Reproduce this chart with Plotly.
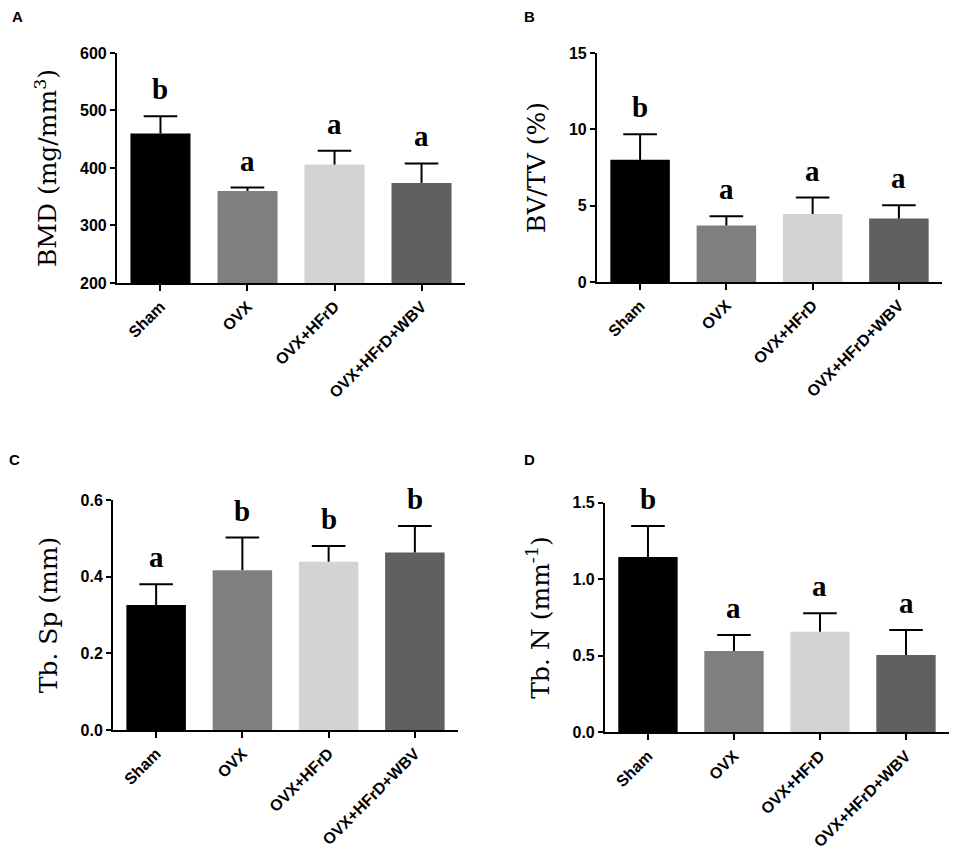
import plotly.graph_objects as go

groups = ["Sham", "OVX", "OVX+HFrD", "OVX+HFrD+WBV"]
bar_colors = ["#000000", "#7f7f7f", "#d3d3d3", "#606060"]

# panel A: BMD
bmd_mean = [460, 360, 406, 374]
bmd_err = [30, 6, 24, 34]
bmd_sig = ["b", "a", "a", "a"]

# panel B: BV/TV
bvtv_mean = [8.0, 3.7, 4.45, 4.15]
bvtv_err = [1.67, 0.6, 1.08, 0.88]
bvtv_sig = ["b", "a", "a", "a"]

# panel C: Tb. Sp
tbsp_mean = [0.326, 0.417, 0.439, 0.463]
tbsp_err = [0.054, 0.085, 0.041, 0.069]
tbsp_sig = ["a", "b", "b", "b"]

# panel D: Tb. N
tbn_mean = [1.145, 0.531, 0.657, 0.505]
tbn_err = [0.202, 0.104, 0.12, 0.163]
tbn_sig = ["b", "a", "a", "a"]

panels = [
    dict(tag="A", mean=bmd_mean, err=bmd_err, sig=bmd_sig,
         title="BMD (mg/mm<sup>3</sup>)", rng=[200, 600], dtick=100, fmt="d",
         xdom=[0.1158, 0.4857], ydom=[0.6742, 0.9467], lab=(0.0106, 0.9905)),
    dict(tag="B", mean=bvtv_mean, err=bvtv_err, sig=bvtv_sig,
         title="BV/TV (%)", rng=[0, 15], dtick=5, fmt="d",
         xdom=[0.6259, 0.9926], ydom=[0.6754, 0.9467], lab=(0.5537, 0.9905)),
    dict(tag="C", mean=tbsp_mean, err=tbsp_err, sig=tbsp_sig,
         title="Tb. Sp (mm)", rng=[0, 0.6], dtick=0.2, fmt=".1f",
         xdom=[0.1116, 0.4782], ydom=[0.1445, 0.4171], lab=(0.0074, 0.4656)),
    dict(tag="D", mean=tbn_mean, err=tbn_err, sig=tbn_sig,
         title="Tb. N (mm<sup>-1</sup>)", rng=[0, 1.5], dtick=0.5, fmt=".1f",
         xdom=[0.6344, 1.0], ydom=[0.1418, 0.4139], lab=(0.5537, 0.4656)),
]

fig = go.Figure()
tick_font = dict(family="Liberation Sans", size=16, color="black", weight="bold")

for i, p in enumerate(panels):
    n = "" if i == 0 else str(i + 1)
    tops = [m + e for m, e in zip(p["mean"], p["err"])]
    fig.add_trace(go.Bar(
        x=groups, y=p["mean"],
        marker=dict(color=bar_colors, line=dict(width=0)),
        xaxis="x" + n, yaxis="y" + n, showlegend=False,
    ))
    # upper error bars: stem drawn down to the bar top, cap only at the top
    fig.add_trace(go.Scatter(
        x=groups, y=tops, mode="markers",
        marker=dict(symbol="line-ew", size=24, color="black",
                    line=dict(color="black", width=2)),
        error_y=dict(type="data", symmetric=False, array=[0] * len(groups),
                     arrayminus=p["err"], color="black", thickness=2, width=0),
        xaxis="x" + n, yaxis="y" + n, showlegend=False, hoverinfo="skip",
    ))
    fig.update_layout(**{
        "xaxis" + n: dict(
            domain=p["xdom"], anchor="y" + n, showline=True, linewidth=2,
            linecolor="black", ticks="outside", ticklen=6, tickwidth=2,
            tickcolor="black", tickangle=-45, automargin=False,
            tickfont=dict(family="Liberation Sans", size=16, color="black",
                          weight="bold"),
            showgrid=False, zeroline=False),
        "yaxis" + n: dict(
            domain=p["ydom"], anchor="x" + n, range=p["rng"], dtick=p["dtick"],
            tickformat=p["fmt"], showline=True, linewidth=2, linecolor="black",
            ticks="outside", ticklen=5, tickwidth=2, tickcolor="black",
            tickfont=tick_font, showgrid=False, zeroline=False,
            automargin=False,
            title=dict(text=p["title"], standoff=16,
                       font=dict(family="DejaVu Serif", size=25,
                                 color="black"))),
    })
    for g, t, s in zip(groups, tops, p["sig"]):
        fig.add_annotation(x=g, y=t, xref="x" + n, yref="y" + n,
                           text=s, showarrow=False, yanchor="bottom", yshift=9,
                           font=dict(family="Liberation Serif", size=29,
                                     color="black", weight="bold"))
    fig.add_annotation(x=p["lab"][0], y=p["lab"][1], xref="paper",
                       yref="paper", text=p["tag"], showarrow=False,
                       xanchor="center", yanchor="middle",
                       font=dict(family="Liberation Sans", size=15,
                                 color="black", weight="bold"))

# the page body adds 8 px round the figure, so the figure is 16 px smaller
fig.update_layout(
    width=941, height=844,
    margin=dict(l=0, r=0, t=0, b=0, pad=0, autoexpand=False),
    paper_bgcolor="white", plot_bgcolor="white",
    bargap=0.31,
)

fig.write_html("out.html")
